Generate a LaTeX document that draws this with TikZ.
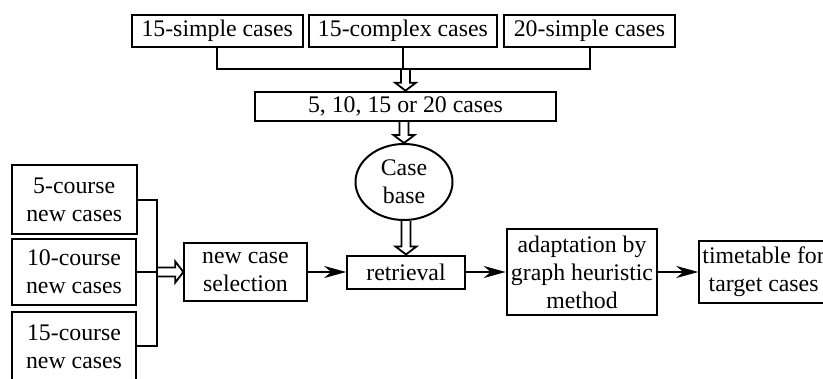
\documentclass[tikz,border=0pt]{standalone}
\usepackage{fontspec}
\setmainfont{Liberation Serif}
\usetikzlibrary{calc,arrows.meta,shapes.geometric}
\tikzset{
  box/.style={draw, line width=2pt, inner sep=0pt, align=center,
    font=\fontsize{23.8}{28}\selectfont},
  conn/.style={line width=2pt},
  arr/.style={line width=2pt, -{Stealth[length=22pt,width=12pt,inset=7pt]}},
  hollowline/.style={line width=1.8pt, line join=miter},
}
\newcommand\hollowdown[2]{%
  \draw[hollowline] ($(#2 |- #1)+(-4.5,0)$) -- ($(#2)+(-4.5,-8)$) -- ($(#2)+(-10.5,-8)$)
    -- (#2) -- ($(#2)+(10.5,-8)$) -- ($(#2)+(4.5,-8)$) -- ($(#2 |- #1)+(4.5,0)$);}
\newcommand\hollowright[2]{%
  \draw[hollowline] ($(#1 |- #2)+(0,-4.5)$) -- ($(#2)+(-8,-4.5)$) -- ($(#2)+(-8,-10.5)$)
    -- (#2) -- ($(#2)+(-8,10.5)$) -- ($(#2)+(-8,4.5)$) -- ($(#1 |- #2)+(0,4.5)$);}
\begin{document}
\begin{tikzpicture}[x=1pt,y=-1pt]
\path[use as bounding box, clip] (0,0) rectangle (823,378);
% top row
\node[box, minimum width=171pt, minimum height=31.7pt] (t1) at (217.2,30.8) {15-simple cases};
\node[box, minimum width=187.7pt, minimum height=31.7pt] (t2) at (402.9,30.8) {15-complex cases};
\node[box, minimum width=171pt, minimum height=31.7pt] (t3) at (589.5,30.8) {20-simple cases};
\coordinate (hm) at (405,69.3);
\draw[conn] (t1.south) |- (hm) -| (t3.south);
\draw[conn] (t2.south) -- (t2.south |- hm);
% middle column
\node[box, minimum width=301pt, minimum height=29.3pt] (m) at (405.5,106.3) {5, 10, 15 or 20 cases};
\node[box, ellipse, minimum width=97pt, minimum height=76pt] (cb) at (404,182) {Case\\base};
\node[box, minimum width=117.7pt, minimum height=33pt] (ret) at (406,272) {retrieval};
\hollowdown{hm}{m.north}
\hollowdown{m.south}{cb.north}
\hollowdown{cb.south}{ret.north}
% left column
\node[box, minimum width=125pt, minimum height=69pt] (b1) at (74.2,199.5) {5-course\\new cases};
\node[box, minimum width=123.4pt, minimum height=66pt] (b2) at (74,272) {10-course\\new cases};
\node[box, minimum width=124pt, minimum height=69.3pt] (b3) at (74,346.3) {15-course\\new cases};
\coordinate (j) at (157.3,272);
\draw[conn] (b1.east) -- (b1.east -| j) -- (b3.east -| j) -- (b3.east);
\draw[conn] (b2.east) -- (j);
% main row
\node[box, minimum width=122.4pt, minimum height=57.7pt] (ncs) at (245.5,272) {new case\\selection};
\node[box, minimum width=150.6pt, minimum height=86.4pt] (ad) at (582,272) {adaptation by\\graph heuristic\\method};
\node[box, minimum width=128.7pt, minimum height=61.6pt] (tt) at (763.6,272) {timetable for\\target cases};
\hollowright{j}{ncs.west}
\draw[arr] (ncs.east) -- (ret.west);
\draw[arr] (ret.east) -- (ad.west);
\draw[arr] (ad.east) -- (tt.west);
\end{tikzpicture}
\end{document}
